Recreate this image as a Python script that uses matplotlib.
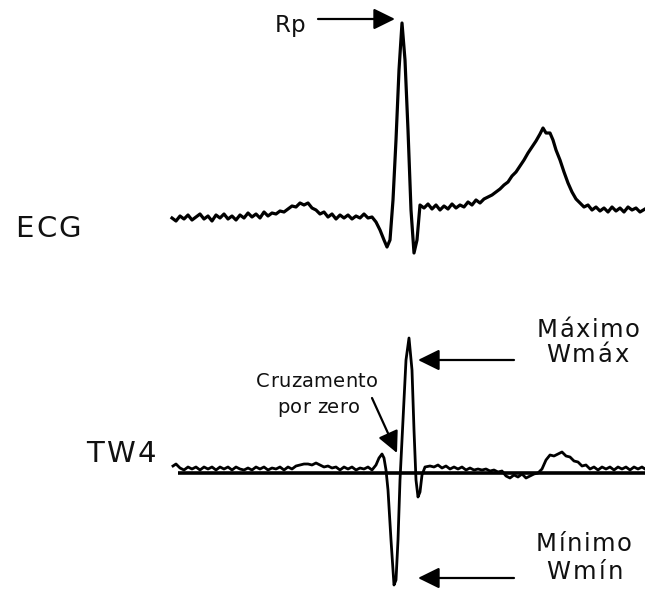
import matplotlib
matplotlib.use("Agg")
import matplotlib.pyplot as plt
from matplotlib.font_manager import FontProperties, findfont, get_font

# traces (x: time in px, y: level in px, y grows downward)
ecg_pts = [(172, 218), (176, 221), (180, 216), (184, 219), (188, 215), (192, 220), (196, 217),
           (200, 214), (204, 219), (208, 216), (212, 221), (216, 215), (220, 218), (224, 214),
           (228, 219), (232, 216), (236, 220), (240, 215), (244, 218), (248, 213), (252, 217),
           (256, 214), (260, 218), (264, 212), (268, 216), (272, 213), (276, 214), (280, 211),
           (284, 212), (288, 209), (292, 206), (296, 207), (300, 203), (304, 205), (308, 203),
           (312, 208), (316, 210), (320, 214), (324, 212), (328, 217), (332, 214), (336, 219),
           (340, 215), (344, 218), (348, 215), (352, 219), (356, 216), (360, 218), (364, 214),
           (368, 218), (372, 217), (376, 222), (380, 230), (384, 240), (387, 247), (390, 240),
           (393, 200), (396, 140), (399, 70), (402, 23), (405, 60), (408, 130), (411, 210),
           (414, 253), (417, 240), (420, 205), (424, 208), (428, 204), (432, 209), (436, 205),
           (440, 210), (444, 206), (448, 209), (452, 204), (456, 208), (460, 205), (464, 207),
           (468, 202), (472, 205), (476, 200), (480, 203), (484, 199), (488, 197), (492, 195),
           (496, 192), (500, 189), (504, 185), (508, 182), (512, 176), (516, 172), (520, 166),
           (524, 160), (528, 153), (532, 147), (536, 141), (540, 134), (543, 128), (546, 133),
           (550, 133), (553, 140), (556, 150), (560, 160), (564, 172), (568, 183), (572, 192),
           (576, 199), (580, 203), (584, 207), (588, 205), (592, 210), (596, 207), (600, 211),
           (604, 208), (608, 212), (612, 207), (616, 211), (620, 208), (624, 212), (628, 207),
           (632, 210), (636, 208), (640, 212), (645, 209)]

tw4_pts = [(173, 466), (176, 464), (180, 468), (184, 470), (188, 467), (192, 469), (196, 467),
           (200, 470), (204, 467), (208, 469), (212, 467), (216, 470), (220, 467), (224, 469),
           (228, 467), (232, 470), (236, 467), (240, 469), (244, 470), (248, 468), (252, 470),
           (256, 467), (260, 469), (264, 467), (268, 470), (272, 468), (276, 469), (280, 467),
           (284, 470), (288, 467), (292, 469), (296, 466), (300, 465), (304, 464), (308, 464),
           (312, 465), (316, 463), (320, 465), (324, 467), (328, 466), (332, 468), (336, 467),
           (340, 470), (344, 467), (348, 469), (352, 467), (356, 470), (360, 468), (364, 469),
           (368, 467), (372, 470), (376, 465), (379, 458), (382, 454), (384, 458), (386, 470),
           (388, 490), (391, 540), (394, 585), (396, 580), (398, 540), (400, 480), (403, 420),
           (406, 360), (409, 338), (412, 370), (414, 430), (416, 480), (418, 497), (420, 492),
           (422, 475), (425, 467), (430, 466), (434, 467), (438, 465), (442, 468), (446, 466),
           (450, 469), (454, 467), (458, 469), (462, 467), (466, 470), (470, 468), (474, 470),
           (478, 469), (482, 470), (486, 469), (490, 471), (494, 470), (498, 472), (502, 471),
           (506, 476), (510, 478), (514, 475), (518, 477), (522, 474), (526, 478), (530, 476),
           (534, 474), (538, 473), (542, 469), (546, 460), (550, 455), (554, 456), (558, 454),
           (562, 452), (566, 456), (570, 457), (574, 461), (578, 462), (582, 466), (586, 465),
           (590, 469), (594, 467), (598, 470), (602, 467), (606, 469), (610, 467), (614, 470),
           (618, 467), (622, 469), (626, 467), (630, 470), (634, 467), (638, 469), (642, 467),
           (645, 469)]
tw4_zero = 473

ecg_t, ecg_v = zip(*ecg_pts)
tw4_t, tw4_v = zip(*tw4_pts)

W, H = 645, 589
fig = plt.figure(figsize=(W / 100, H / 100), dpi=100)
ax = fig.add_axes([0, 0, 1, 1])
ax.set_xlim(0, W)
ax.set_ylim(H, 0)
ax.axis("off")

ax.plot(ecg_t, ecg_v, color="black", lw=2.3)
ax.hlines(tw4_zero, tw4_t[0] + 5, tw4_t[-1], color="black", lw=2.6)
ax.plot(tw4_t, tw4_v, color="black", lw=2.0)


def spaced_text(x, y, s, size, gap):
    # letter-spaced text, y is the baseline, units are pixels
    prop = FontProperties(family="DejaVu Sans", size=size)
    font = get_font(findfont(prop))
    font.set_size(size, 100)
    for ch in s:
        ax.text(x, y, ch, fontproperties=prop, ha="left", va="baseline", color="#111111")
        g = font.load_char(ord(ch))
        x += g.linearHoriAdvance / 65536 + gap


spaced_text(15, 237, "ECG", 21, 2.5)
spaced_text(86, 462, "TW4", 21, 2.5)
spaced_text(275, 32, "Rp", 16.5, 0)
spaced_text(537, 337, "Máximo", 17.5, 1.5)
spaced_text(546, 362, "Wmáx", 17.5, 2)
spaced_text(536, 551, "Mínimo", 17.5, 1.5)
spaced_text(546, 579, "Wmín", 17.5, 2.5)
spaced_text(256, 387, "Cruzamento", 14, 0.3)
spaced_text(277, 413, "por zero", 14, 0.3)

arrow = dict(arrowstyle="-|>,head_length=0.65,head_width=0.32", mutation_scale=20,
             color="black", lw=1.6, shrinkA=0, shrinkB=0)
ax.annotate("", xy=(395, 19), xytext=(318, 19), arrowprops=arrow)
ax.annotate("", xy=(418, 360), xytext=(514, 360), arrowprops=arrow)
ax.annotate("", xy=(418, 578), xytext=(514, 578), arrowprops=arrow)
ax.annotate("", xy=(397, 453), xytext=(372, 398), arrowprops=arrow)

fig.savefig("out.png", dpi=100)
